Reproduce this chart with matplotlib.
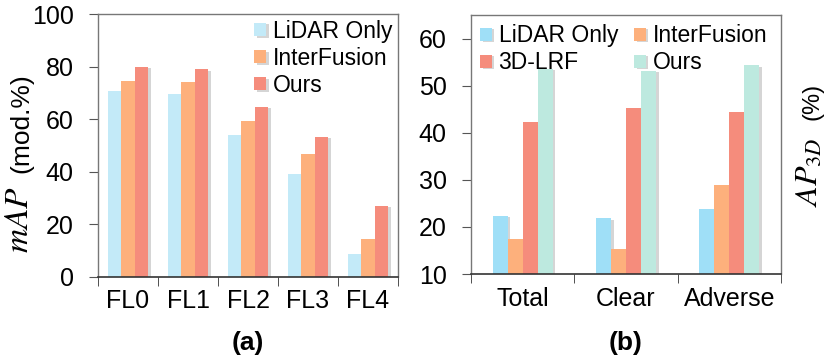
import matplotlib
matplotlib.use("Agg")
import matplotlib.pyplot as plt
import matplotlib.patheffects as pe
import numpy as np

# Panel (a)
cats_a = ["FL0", "FL1", "FL2", "FL3", "FL4"]
lidar_a = [70.6, 69.4, 53.9, 39.0, 8.9]
inter_a = [74.5, 74.1, 59.3, 46.8, 14.6]
ours_a = [80.0, 78.9, 64.8, 53.4, 27.0]
series_a = ["LiDAR Only", "InterFusion", "Ours"]

# Panel (b)
cats_b = ["Total", "Clear", "Adverse"]
lidar_b = [22.4, 21.8, 23.7]
inter_b = [17.5, 15.3, 28.8]
lrf_b = [42.2, 45.3, 44.4]
ours_b = [53.6, 53.1, 54.3]
series_b = ["LiDAR Only", "InterFusion", "3D-LRF", "Ours"]

plt.rcParams['font.family'] = ['Liberation Sans', 'DejaVu Sans']
plt.rcParams['mathtext.fontset'] = 'stix'

fig = plt.figure(figsize=(8.3, 3.6), dpi=100)
W, H = 830, 360
ax1 = fig.add_axes([98 / W, 1 - 277 / H, 300 / W, 263 / H])
ax2 = fig.add_axes([471 / W, 1 - 274 / H, 310 / W, 259 / H])

shadow = [pe.SimplePatchShadow(offset=(2, -1), shadow_rgbFace='#888888', alpha=0.35), pe.Normal()]

def style(ax, ncats):
    ax.set_xlim(-0.5, ncats - 0.5)
    ax.set_xticks(np.arange(ncats + 1) - 0.5, minor=True)
    ax.tick_params(axis='x', which='major', length=0, pad=9, labelsize=18)
    ax.tick_params(axis='x', which='minor', length=6.5, color='#333333')
    ax.tick_params(axis='y', length=6.5, color='#555555', labelsize=18, pad=11)
    for s in ['top', 'right', 'left']:
        ax.spines[s].set_color('#777777')
        ax.spines[s].set_linewidth(1.0)
    ax.spines['bottom'].set_color('#333333')
    ax.spines['bottom'].set_linewidth(1.2)

cols_a = ['#c3eaf8', '#fdb07c', '#f58c7c']
bw = 0.222
x = np.arange(len(cats_a))
for i, (vals, c, lab) in enumerate(zip([lidar_a, inter_a, ours_a], cols_a, series_a)):
    bars = ax1.bar(x + (i - 1) * bw, vals, bw, color=c, label=lab, zorder=2)
    for b in bars:
        b.set_path_effects(shadow)
ax1.set_ylim(0, 100)
ax1.set_yticks([0, 20, 40, 60, 80, 100])
ax1.set_xticks(x)
ax1.set_xticklabels(cats_a)
style(ax1, len(cats_a))
ax1.legend(loc='upper right', frameon=False, fontsize=16.5, handlelength=0.5, handleheight=0.5,
           handletextpad=0.3, labelspacing=0.18, borderaxespad=0.1, borderpad=0.15)

cols_b = ['#9fdff7', '#fdb07c', '#f58c7c', '#bde9df']
bw2 = 0.145
x2 = np.arange(len(cats_b))
handles = []
for i, (vals, c, lab) in enumerate(zip([lidar_b, inter_b, lrf_b, ours_b], cols_b, series_b)):
    bars = ax2.bar(x2 + (i - 1.5) * bw2, vals, bw2, color=c, label=lab, zorder=2)
    for b in bars:
        b.set_path_effects(shadow)
    handles.append(bars)
ax2.set_ylim(10, 65)
ax2.set_yticks([10, 20, 30, 40, 50, 60])
ax2.set_xticks(x2)
ax2.set_xticklabels(cats_b)
style(ax2, len(cats_b))
order = [0, 2, 1, 3]
ax2.legend([handles[k] for k in order], [series_b[k] for k in order], loc='upper left', ncol=2,
           frameon=False, fontsize=16.5, handlelength=0.5, handleheight=0.5,
           handletextpad=0.3, labelspacing=0.18, columnspacing=0.7, borderaxespad=0.1, borderpad=0.3)

# Axis labels
fig.text(28 / W, 1 - 123 / H, "(mod.%)", rotation=90, rotation_mode='anchor',
         ha='center', va='baseline', fontsize=19)
fig.text(28 / W, 1 - 220 / H, r"$mAP$", rotation=90, rotation_mode='anchor',
         ha='center', va='baseline', fontsize=24)
fig.text(818 / W, 1 - 101 / H, "(%)", rotation=90, rotation_mode='anchor',
         ha='center', va='baseline', fontsize=17)
fig.text(818 / W, 1 - 172 / H, r"$AP_{3D}$", rotation=90, rotation_mode='anchor',
         ha='center', va='baseline', fontsize=23)

fig.text(248 / W, 1 - 343 / H, "(a)", ha='center', va='center', fontsize=19, fontweight='bold')
fig.text(626 / W, 1 - 343 / H, "(b)", ha='center', va='center', fontsize=19, fontweight='bold')

fig.savefig("out.png", dpi=100)
